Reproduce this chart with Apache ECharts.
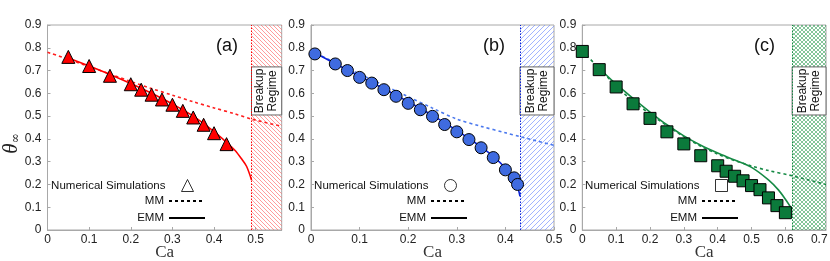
<!DOCTYPE html>
<html><head><meta charset="utf-8">
<script src="https://cdn.jsdelivr.net/npm/echarts@6/dist/echarts.min.js"></script>
<style>html,body{margin:0;padding:0;background:#fff}#c{width:830px;height:261px}</style>
</head><body><div id="c"></div>
<script>
// ---- data ----
const panelLabels = ['(a)', '(b)', '(c)'];
const xMax = [0.5625, 0.5, 0.72];
const breakupCa = [0.49, 0.43, 0.62];
const breakupBoxY = [0.505, 0.716];
const breakupText = 'Breakup\nRegime';
const legendNames = ['Numerical Simulations', 'MM', 'EMM'];

const simA = [[0.05,0.76],[0.1,0.72],[0.15,0.677],[0.2,0.64],[0.225,0.616],[0.25,0.594],[0.275,0.573],[0.3,0.55],[0.325,0.523],[0.35,0.494],[0.375,0.462],[0.4,0.425],[0.43,0.377]];
const mmA = [[0,0.78],[0.05,0.75],[0.1,0.717],[0.15,0.685],[0.2,0.652],[0.25,0.621],[0.3,0.592],[0.35,0.563],[0.4,0.536],[0.45,0.51],[0.49,0.487],[0.5625,0.455]];
const emmA = [[0.05,0.755],[0.1,0.72],[0.15,0.683],[0.2,0.643],[0.25,0.6],[0.3,0.553],[0.35,0.5],[0.4,0.432],[0.43,0.385],[0.45,0.35],[0.465,0.315],[0.478,0.28],[0.49,0.22]];

const simB = [[0.008,0.773],[0.05,0.729],[0.075,0.70],[0.1,0.67],[0.125,0.645],[0.15,0.616],[0.175,0.587],[0.2,0.556],[0.225,0.528],[0.25,0.499],[0.275,0.463],[0.3,0.431],[0.325,0.397],[0.35,0.361],[0.375,0.318],[0.4,0.264],[0.418,0.229],[0.425,0.20]];
const mmB = [[0,0.785],[0.05,0.735],[0.1,0.685],[0.15,0.635],[0.2,0.585],[0.25,0.535],[0.3,0.487],[0.35,0.455],[0.4,0.427],[0.43,0.41],[0.5,0.372]];
const emmB = [[0.008,0.778],[0.05,0.73],[0.1,0.675],[0.15,0.62],[0.2,0.563],[0.25,0.503],[0.3,0.437],[0.35,0.365],[0.375,0.323],[0.4,0.272],[0.415,0.232],[0.425,0.19],[0.43,0.148]];

const simC = [[0,0.784],[0.05,0.704],[0.1,0.628],[0.15,0.554],[0.2,0.49],[0.25,0.431],[0.3,0.378],[0.35,0.326],[0.4,0.282],[0.425,0.258],[0.45,0.236],[0.475,0.216],[0.5,0.195],[0.525,0.177],[0.55,0.141],[0.575,0.107],[0.6,0.076]];
const mmC = [[0,0.785],[0.05,0.71],[0.1,0.632],[0.15,0.565],[0.2,0.51],[0.25,0.458],[0.3,0.41],[0.35,0.368],[0.4,0.333],[0.45,0.305],[0.5,0.281],[0.55,0.261],[0.62,0.238],[0.72,0.2]];
const emmC = [[0.05,0.71],[0.1,0.64],[0.15,0.578],[0.2,0.518],[0.25,0.462],[0.3,0.413],[0.35,0.372],[0.4,0.338],[0.45,0.307],[0.5,0.275],[0.55,0.22],[0.58,0.175],[0.6,0.135],[0.62,0.09]];

// ---- styling ----
const sims = [simA, simB, simC];
const mms = [mmA, mmB, mmC];
const emms = [emmA, emmB, emmC];
const symbols = ['triangle', 'circle', 'rect'];
const symSizes = [13, 12, 12];
const fillColors = ['#ff0000', '#3f6be0', '#0b7a3b'];
const emmColors = ['#ff0000', '#0a22d8', '#168a45'];
const mmColors = ['#ff2020', '#4a78ee', '#168a45'];
const hatchColors = ['rgba(255,90,90,0.6)', 'rgba(100,130,255,0.6)', 'rgba(30,150,70,0.55)'];
const hatchSizes = [4, 5, 4];
const hatchDirs = [['\\'], ['/'], ['\\', '/']];
const grids = [{left: 47.5, right: 548.3}, {left: 311, right: 276}, {left: 582.3, right: 4}];
const FONT = 'Liberation Sans';
const frame = '#a8a8a8';

function hatch(color, dirs, size) {
  const c = document.createElement('canvas');
  c.width = c.height = size;
  const g = c.getContext('2d');
  g.strokeStyle = color; g.lineWidth = 1;
  dirs.forEach(d => {
    for (let k = -1; k <= 1; k++) {
      g.beginPath();
      if (d === '\\') { g.moveTo(k * size, 0); g.lineTo(k * size + size, size); }
      else { g.moveTo(k * size, size); g.lineTo(k * size + size, 0); }
      g.stroke();
    }
  });
  return { image: c, repetition: 'repeat' };
}

const chart = echarts.init(document.getElementById('c'), null, { renderer: 'canvas' });

const grid = grids.map(g => ({ left: g.left, right: g.right, top: 25, bottom: 31, show: true, borderColor: frame, borderWidth: 1, backgroundColor: 'transparent', containLabel: false, outerBoundsMode: 'none' }));

const xAxis = grids.map((g, i) => ({
  type: 'value', gridIndex: i, min: 0, max: xMax[i], interval: 0.1,
  name: 'Ca', nameLocation: 'middle', nameGap: 14, nameMoveOverlap: false,
  nameTextStyle: { fontFamily: 'Liberation Serif', fontSize: 17, color: '#333' },
  axisLine: { show: true, lineStyle: { color: frame } },
  axisTick: { show: true, inside: true, length: 3, lineStyle: { color: frame } },
  axisLabel: { color: '#222', fontFamily: FONT, fontSize: 12, margin: 4, showMaxLabel: i === 1 },
  splitLine: { show: false }
}));

const yAxis = grids.map((g, i) => ({
  type: 'value', gridIndex: i, min: 0, max: 0.9, interval: 0.1,
  name: i === 0 ? '{t|θ}{s|∞}' : '', nameLocation: 'middle', nameGap: 26, nameRotate: 90, nameMoveOverlap: false,
  nameTextStyle: { rich: {
    t: { fontFamily: 'Liberation Serif', fontStyle: 'italic', fontSize: 21, color: '#222' },
    s: { fontFamily: 'DejaVu Serif', fontSize: 12, color: '#222', padding: [9, 32, 0, 0] }
  } },
  axisLine: { show: true, lineStyle: { color: frame } },
  axisTick: { show: true, inside: true, length: 3, lineStyle: { color: frame } },
  axisLabel: { color: '#222', fontFamily: FONT, fontSize: 12, margin: 6 },
  splitLine: { show: false }
}));

const series = [];
grids.forEach((g, i) => {
  series.push({
    name: 'mm' + i, type: 'line', xAxisIndex: i, yAxisIndex: i, data: mms[i], smooth: 0.3,
    symbol: 'none', z: 3, silent: true,
    lineStyle: { color: mmColors[i], width: 1.6, type: [3, 3] },
    markArea: {
      silent: true, z: 1,
      data: [
        [{ xAxis: breakupCa[i], yAxis: 0, itemStyle: { color: hatch(hatchColors[i], hatchDirs[i], hatchSizes[i]) } }, { xAxis: xMax[i], yAxis: 0.9 }],
        [{ xAxis: breakupCa[i], yAxis: breakupBoxY[0], itemStyle: { color: '#fff', borderColor: '#666', borderWidth: 1 },
           label: { show: true, position: 'inside', rotate: 90, formatter: breakupText, color: '#111', fontFamily: FONT, fontSize: 12, lineHeight: 13, align: 'center', verticalAlign: 'middle' } },
         { xAxis: xMax[i], yAxis: breakupBoxY[1] }]
      ]
    },
    markLine: {
      silent: true, symbol: 'none', label: { show: false },
      lineStyle: { type: [1.5, 1.5], color: emmColors[i], width: 1 },
      data: [{ xAxis: breakupCa[i] }]
    }
  });
  series.push({
    name: 'emm' + i, type: 'line', xAxisIndex: i, yAxisIndex: i, data: emms[i], smooth: 0.3,
    symbol: 'none', z: 4, silent: true,
    lineStyle: { color: emmColors[i], width: 1.6 }
  });
  series.push({
    name: 'sim' + i, type: 'scatter', xAxisIndex: i, yAxisIndex: i, data: sims[i],
    symbol: symbols[i], symbolSize: symSizes[i], z: 5, silent: true,
    itemStyle: { color: fillColors[i], borderColor: '#000', borderWidth: 1, opacity: 1 }
  });
});
// legend proxies
series.push({ name: legendNames[0], type: 'scatter', xAxisIndex: 0, yAxisIndex: 0, data: [], itemStyle: { color: '#fff', borderColor: '#000', borderWidth: 1 } });
series.push({ name: legendNames[1], type: 'line', xAxisIndex: 0, yAxisIndex: 0, data: [], symbol: 'none', showSymbol: false, lineStyle: { color: '#000', width: 1, type: [3, 3] } });
series.push({ name: legendNames[2], type: 'line', xAxisIndex: 0, yAxisIndex: 0, data: [], symbol: 'none', showSymbol: false, lineStyle: { color: '#000', width: 1 } });

const legendRightLine = [624, 362, 91];
const legendRightSym = [636, 373, 102];
const legendTop = [179, 195, 212];
const legend = [];
grids.forEach((g, i) => {
  legendNames.forEach((n, j) => {
    const item = { name: n };
    let opts;
    if (j === 0) {
      item.icon = symbols[i];
      item.itemStyle = { color: '#fff', borderColor: '#000', borderWidth: 1 };
      opts = { right: legendRightSym[i], itemWidth: 12, itemHeight: 12, textStyle: { color: '#111', fontFamily: FONT, fontSize: 11.5, padding: [0, 11, 0, 0] } };
    } else {
      item.itemStyle = { opacity: 0, color: 'transparent', borderColor: 'transparent' };
      opts = { right: legendRightLine[i], itemWidth: 36, itemHeight: 10, textStyle: { color: '#111', fontFamily: FONT, fontSize: 11.5 } };
    }
    legend.push(Object.assign({
      data: [item], top: legendTop[j], align: 'right', orient: 'horizontal',
      padding: 0, selectedMode: false
    }, opts));
  });
});

const titleCenters = [227, 494, 765];
const title = panelLabels.map((t, i) => ({
  text: t, left: titleCenters[i] - 11, top: 37, padding: 0,
  textStyle: { fontFamily: FONT, fontSize: 18, fontWeight: 'normal', color: '#111' }
}));

chart.setOption({ animation: false, backgroundColor: '#fff', title, grid, xAxis, yAxis, series, legend });
</script></body></html>
